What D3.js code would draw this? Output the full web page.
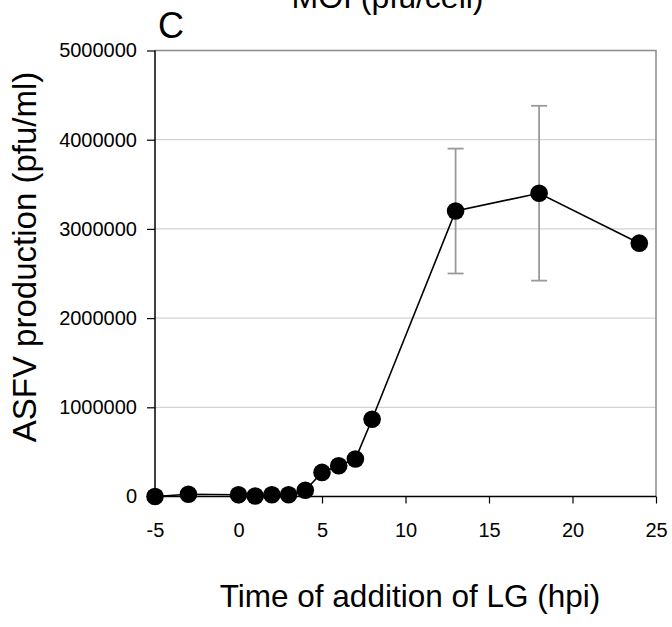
<!DOCTYPE html>
<html>
<head>
<meta charset="utf-8">
<script src="https://cdn.jsdelivr.net/npm/d3@7"></script>
<style>
  html, body { margin: 0; padding: 0; background: #fff; }
  svg text { font-family: Arial, "Liberation Sans", sans-serif; fill: #000; }
</style>
</head>
<body>
<div id="chart"></div>
<script>
// Constants for the chart
const CHART_WIDTH = 672;
const CHART_HEIGHT = 627;
const PLOT = { left: 155, right: 656, top: 50.5, bottom: 496.5 };

// data
const times = [-5, -3, 0, 1, 2, 3, 4, 5, 6, 7, 8, 13, 18, 24];
const production = [0, 25000, 20000, 5000, 20000, 20000, 70000, 270000, 345000, 420000, 866000, 3200000, 3400000, 2840000];
const errorTimes = [13, 18];
const errorMeans = [3200000, 3400000];
const errorSizes = [700000, 980000];
const xTicks = [-5, 0, 5, 10, 15, 20, 25];
const yTicks = [0, 1000000, 2000000, 3000000, 4000000, 5000000];

let svg = d3.select("#chart").append("svg")
  .attr("width", CHART_WIDTH)
  .attr("height", CHART_HEIGHT);

let xScale = d3.scaleLinear().domain([-5, 25]).range([PLOT.left, PLOT.right]);
let yScale = d3.scaleLinear().domain([0, 5000000]).range([PLOT.bottom, PLOT.top]);

// gridlines
svg.append("g")
  .selectAll("line")
  .data(yTicks.slice(1, -1))
  .join("line")
  .attr("x1", PLOT.left)
  .attr("x2", PLOT.right)
  .attr("y1", d => yScale(d))
  .attr("y2", d => yScale(d))
  .attr("stroke", "#c8c8c8")
  .attr("stroke-width", 1);

// top and right border (grey)
svg.append("path")
  .attr("d", `M${PLOT.left},${PLOT.top}H${PLOT.right}V${PLOT.bottom}`)
  .attr("fill", "none")
  .attr("stroke", "#8c8c8c")
  .attr("stroke-width", 1.5);

// Axes - plain hyphen for negatives, like the original
let xAxis = d3.axisBottom(xScale).tickValues(xTicks).tickSize(7).tickPadding(19.5).tickFormat(d => String(d));
let yAxis = d3.axisLeft(yScale).tickValues(yTicks).tickSize(8).tickPadding(10).tickFormat(d => String(d));

let gx = svg.append("g")
  .attr("transform", `translate(0, ${PLOT.bottom})`)
  .call(xAxis);
let gy = svg.append("g")
  .attr("transform", `translate(${PLOT.left}, 0)`)
  .call(yAxis);

[gx, gy].forEach(g => {
  g.select(".domain").attr("stroke", "#000").attr("stroke-width", 1.5);
  g.selectAll(".tick line").attr("stroke", "#000").attr("stroke-width", 1.2);
  g.selectAll(".tick text")
    .style("font-size", "20px")
    .style("font-family", "Arial, 'Liberation Sans', sans-serif")
    .attr("fill", "#000");
});
gx.select(".domain").attr("d", `M${PLOT.left},0H${PLOT.right}`);
gy.select(".domain").attr("d", `M0,${PLOT.bottom}V${PLOT.top}`);

// error bars
let errData = errorTimes.map((t, i) => ({ t: t, m: errorMeans[i], e: errorSizes[i] }));
let errG = svg.append("g").attr("stroke", "#9a9a9a").attr("stroke-width", 1.8);
errG.selectAll("line.bar")
  .data(errData)
  .join("line")
  .attr("class", "bar")
  .attr("x1", d => xScale(d.t))
  .attr("x2", d => xScale(d.t))
  .attr("y1", d => yScale(d.m + d.e))
  .attr("y2", d => yScale(d.m - d.e));
errData.forEach(d => {
  [d.m + d.e, d.m - d.e].forEach(v => {
    errG.append("line")
      .attr("x1", xScale(d.t) - 8)
      .attr("x2", xScale(d.t) + 8)
      .attr("y1", yScale(v))
      .attr("y2", yScale(v));
  });
});

// line and markers
let points = times.map((t, i) => ({ t: t, v: production[i] }));
let lineGenerator = d3.line()
  .x(d => xScale(d.t))
  .y(d => yScale(d.v));

svg.append("path")
  .datum(points)
  .attr("d", lineGenerator)
  .attr("fill", "none")
  .attr("stroke", "#000")
  .attr("stroke-width", 1.6);

svg.append("g")
  .selectAll("circle")
  .data(points)
  .join("circle")
  .attr("cx", d => xScale(d.t))
  .attr("cy", d => yScale(d.v))
  .attr("r", 8.8)
  .attr("fill", "#000");

// Labels
svg.append("text")
  .attr("x", 387.5)
  .attr("y", 8)
  .style("text-anchor", "middle")
  .style("font-size", "32px")
  .text("MOI (pfu/cell)");

svg.append("text")
  .attr("x", 158)
  .attr("y", 37.5)
  .style("font-size", "36px")
  .text("C");

svg.append("text")
  .attr("x", 410)
  .attr("y", 606.5)
  .style("text-anchor", "middle")
  .style("font-size", "31.5px")
  .text("Time of addition of LG (hpi)");

svg.append("text")
  .attr("transform", "rotate(-90)")
  .attr("x", -257)
  .attr("y", 36)
  .style("text-anchor", "middle")
  .style("font-size", "33px")
  .text("ASFV production (pfu/ml)");
</script>
</body>
</html>
